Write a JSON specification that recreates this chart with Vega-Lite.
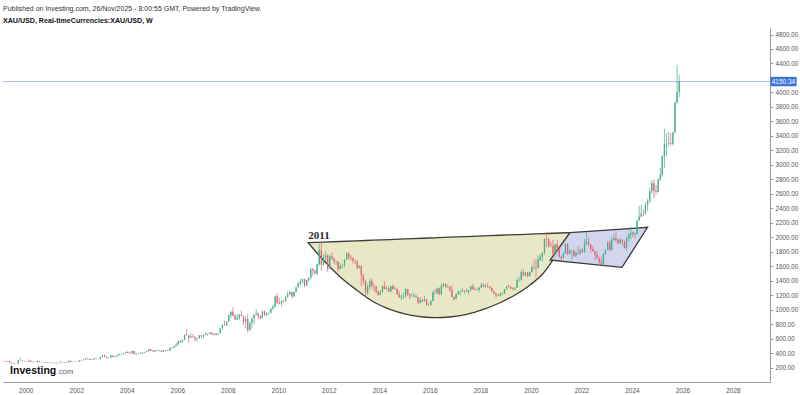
{
  "$schema": "https://vega.github.io/schema/vega-lite/v6.json",
  "autosize": {"type": "none"},
  "width": 767,
  "height": 354,
  "padding": {"left": 3, "top": 28, "right": 30, "bottom": 13},
  "background": "white",
  "config": {"view": {"stroke": null}, "font": "Liberation Sans", "axis": {"labelOverlap": false, "labelBound": false, "labelFlush": false}, "scale": {"continuousPadding": 0}},
  "title": {
    "text": "Published on Investing.com, 26/Nov/2025 - 8:00:55 GMT, Powered by TradingView.",
    "subtitle": "XAU/USD, Real-timeCurrencies:XAU/USD, W",
    "anchor": "start",
    "frame": "group",
    "font": "Liberation Sans",
    "fontSize": 7,
    "fontWeight": "normal",
    "color": "#333333",
    "subtitleFont": "Liberation Sans",
    "subtitleFontSize": 7.1,
    "subtitleFontWeight": "bold",
    "subtitleColor": "#111111",
    "subtitlePadding": 4.5,
    "offset": 4
  },
  "resolve": {"axis": {"x": "independent", "y": "independent"}},
  "datasets": {
    "gold": [
      {"t":"1999-02-15","o":287,"h":293,"l":282,"c":287},
      {"t":"1999-03-15","o":287,"h":291,"l":278,"c":279},
      {"t":"1999-04-15","o":279,"h":291,"l":278,"c":286},
      {"t":"1999-05-15","o":286,"h":290,"l":268,"c":268},
      {"t":"1999-06-15","o":268,"h":268,"l":256,"c":261},
      {"t":"1999-07-15","o":261,"h":262,"l":252,"c":255},
      {"t":"1999-08-15","o":255,"h":260,"l":252,"c":254},
      {"t":"1999-09-15","o":254,"h":302,"l":253,"c":299},
      {"t":"1999-10-15","o":299,"h":338,"l":293,"c":299},
      {"t":"1999-11-15","o":299,"h":301,"l":289,"c":291},
      {"t":"1999-12-15","o":291,"h":292,"l":279,"c":288},
      {"t":"2000-01-15","o":288,"h":292,"l":280,"c":283},
      {"t":"2000-02-15","o":283,"h":313,"l":282,"c":293},
      {"t":"2000-03-15","o":293,"h":298,"l":277,"c":278},
      {"t":"2000-04-15","o":278,"h":288,"l":272,"c":275},
      {"t":"2000-05-15","o":275,"h":278,"l":270,"c":272},
      {"t":"2000-06-15","o":272,"h":293,"l":271,"c":288},
      {"t":"2000-07-15","o":288,"h":290,"l":275,"c":276},
      {"t":"2000-08-15","o":276,"h":280,"l":271,"c":277},
      {"t":"2000-09-15","o":277,"h":277,"l":268,"c":273},
      {"t":"2000-10-15","o":273,"h":276,"l":263,"c":264},
      {"t":"2000-11-15","o":264,"h":270,"l":263,"c":269},
      {"t":"2000-12-15","o":269,"h":275,"l":268,"c":273},
      {"t":"2001-01-15","o":273,"h":273,"l":262,"c":265},
      {"t":"2001-02-15","o":265,"h":268,"l":255,"c":267},
      {"t":"2001-03-15","o":267,"h":268,"l":255,"c":258},
      {"t":"2001-04-15","o":258,"h":265,"l":254,"c":263},
      {"t":"2001-05-15","o":263,"h":293,"l":263,"c":267},
      {"t":"2001-06-15","o":267,"h":277,"l":266,"c":270},
      {"t":"2001-07-15","o":270,"h":272,"l":262,"c":266},
      {"t":"2001-08-15","o":266,"h":280,"l":265,"c":273},
      {"t":"2001-09-15","o":273,"h":294,"l":270,"c":293},
      {"t":"2001-10-15","o":293,"h":293,"l":276,"c":279},
      {"t":"2001-11-15","o":279,"h":282,"l":272,"c":275},
      {"t":"2001-12-15","o":275,"h":280,"l":272,"c":279},
      {"t":"2002-01-15","o":279,"h":286,"l":277,"c":282},
      {"t":"2002-02-15","o":282,"h":300,"l":281,"c":297},
      {"t":"2002-03-15","o":297,"h":305,"l":289,"c":302},
      {"t":"2002-04-15","o":302,"h":309,"l":298,"c":308},
      {"t":"2002-05-15","o":308,"h":328,"l":307,"c":326},
      {"t":"2002-06-15","o":326,"h":330,"l":313,"c":318},
      {"t":"2002-07-15","o":318,"h":323,"l":300,"c":304},
      {"t":"2002-08-15","o":304,"h":315,"l":302,"c":312},
      {"t":"2002-09-15","o":312,"h":326,"l":310,"c":324},
      {"t":"2002-10-15","o":324,"h":326,"l":313,"c":316},
      {"t":"2002-11-15","o":316,"h":322,"l":314,"c":317},
      {"t":"2002-12-15","o":317,"h":349,"l":316,"c":347},
      {"t":"2003-01-15","o":347,"h":372,"l":342,"c":367},
      {"t":"2003-02-15","o":367,"h":382,"l":345,"c":347},
      {"t":"2003-03-15","o":347,"h":352,"l":323,"c":334},
      {"t":"2003-04-15","o":334,"h":340,"l":320,"c":336},
      {"t":"2003-05-15","o":336,"h":372,"l":335,"c":361},
      {"t":"2003-06-15","o":361,"h":369,"l":341,"c":346},
      {"t":"2003-07-15","o":346,"h":361,"l":341,"c":354},
      {"t":"2003-08-15","o":354,"h":376,"l":353,"c":375},
      {"t":"2003-09-15","o":375,"h":392,"l":370,"c":388},
      {"t":"2003-10-15","o":388,"h":392,"l":369,"c":386},
      {"t":"2003-11-15","o":386,"h":399,"l":380,"c":398},
      {"t":"2003-12-15","o":398,"h":417,"l":396,"c":416},
      {"t":"2004-01-15","o":416,"h":428,"l":398,"c":402},
      {"t":"2004-02-15","o":402,"h":417,"l":390,"c":396},
      {"t":"2004-03-15","o":396,"h":431,"l":394,"c":427},
      {"t":"2004-04-15","o":427,"h":429,"l":385,"c":388},
      {"t":"2004-05-15","o":388,"h":396,"l":371,"c":393},
      {"t":"2004-06-15","o":393,"h":399,"l":384,"c":395},
      {"t":"2004-07-15","o":395,"h":412,"l":387,"c":391},
      {"t":"2004-08-15","o":391,"h":411,"l":388,"c":407},
      {"t":"2004-09-15","o":407,"h":416,"l":397,"c":415},
      {"t":"2004-10-15","o":415,"h":430,"l":412,"c":428},
      {"t":"2004-11-15","o":428,"h":456,"l":422,"c":452},
      {"t":"2004-12-15","o":452,"h":457,"l":428,"c":438},
      {"t":"2005-01-15","o":438,"h":440,"l":417,"c":422},
      {"t":"2005-02-15","o":422,"h":437,"l":412,"c":435},
      {"t":"2005-03-15","o":435,"h":445,"l":425,"c":428},
      {"t":"2005-04-15","o":428,"h":439,"l":421,"c":435},
      {"t":"2005-05-15","o":435,"h":436,"l":414,"c":417},
      {"t":"2005-06-15","o":417,"h":443,"l":414,"c":437},
      {"t":"2005-07-15","o":437,"h":438,"l":418,"c":429},
      {"t":"2005-08-15","o":429,"h":448,"l":427,"c":433},
      {"t":"2005-09-15","o":433,"h":474,"l":433,"c":473},
      {"t":"2005-10-15","o":473,"h":479,"l":460,"c":470},
      {"t":"2005-11-15","o":470,"h":497,"l":469,"c":495},
      {"t":"2005-12-15","o":495,"h":541,"l":494,"c":513},
      {"t":"2006-01-15","o":513,"h":572,"l":513,"c":568},
      {"t":"2006-02-15","o":568,"h":574,"l":538,"c":556},
      {"t":"2006-03-15","o":556,"h":586,"l":537,"c":582},
      {"t":"2006-04-15","o":582,"h":655,"l":580,"c":654},
      {"t":"2006-05-15","o":654,"h":730,"l":642,"c":643},
      {"t":"2006-06-15","o":643,"h":645,"l":543,"c":613},
      {"t":"2006-07-15","o":613,"h":675,"l":608,"c":633},
      {"t":"2006-08-15","o":633,"h":663,"l":614,"c":623},
      {"t":"2006-09-15","o":623,"h":632,"l":560,"c":599},
      {"t":"2006-10-15","o":599,"h":610,"l":561,"c":604},
      {"t":"2006-11-15","o":604,"h":649,"l":602,"c":646},
      {"t":"2006-12-15","o":646,"h":648,"l":612,"c":632},
      {"t":"2007-01-15","o":632,"h":657,"l":603,"c":650},
      {"t":"2007-02-15","o":650,"h":690,"l":648,"c":665},
      {"t":"2007-03-15","o":665,"h":669,"l":636,"c":662},
      {"t":"2007-04-15","o":662,"h":693,"l":661,"c":679},
      {"t":"2007-05-15","o":679,"h":689,"l":650,"c":659},
      {"t":"2007-06-15","o":659,"h":675,"l":640,"c":650},
      {"t":"2007-07-15","o":650,"h":683,"l":646,"c":665},
      {"t":"2007-08-15","o":665,"h":675,"l":642,"c":672},
      {"t":"2007-09-15","o":672,"h":745,"l":668,"c":743},
      {"t":"2007-10-15","o":743,"h":790,"l":722,"c":789},
      {"t":"2007-11-15","o":789,"h":846,"l":775,"c":783},
      {"t":"2007-12-15","o":783,"h":836,"l":778,"c":834},
      {"t":"2008-01-15","o":834,"h":930,"l":832,"c":923},
      {"t":"2008-02-15","o":923,"h":976,"l":885,"c":972},
      {"t":"2008-03-15","o":972,"h":1033,"l":905,"c":916},
      {"t":"2008-04-15","o":916,"h":941,"l":860,"c":864},
      {"t":"2008-05-15","o":864,"h":934,"l":849,"c":886},
      {"t":"2008-06-15","o":886,"h":944,"l":858,"c":930},
      {"t":"2008-07-15","o":930,"h":988,"l":906,"c":912},
      {"t":"2008-08-15","o":912,"h":916,"l":786,"c":833},
      {"t":"2008-09-15","o":833,"h":910,"l":740,"c":871},
      {"t":"2008-10-15","o":871,"h":935,"l":681,"c":718},
      {"t":"2008-11-15","o":718,"h":830,"l":705,"c":815},
      {"t":"2008-12-15","o":815,"h":890,"l":746,"c":882},
      {"t":"2009-01-15","o":882,"h":932,"l":800,"c":928},
      {"t":"2009-02-15","o":928,"h":1006,"l":925,"c":942},
      {"t":"2009-03-15","o":942,"h":963,"l":865,"c":916},
      {"t":"2009-04-15","o":916,"h":917,"l":866,"c":883},
      {"t":"2009-05-15","o":883,"h":980,"l":880,"c":978},
      {"t":"2009-06-15","o":978,"h":990,"l":912,"c":926},
      {"t":"2009-07-15","o":926,"h":961,"l":904,"c":954},
      {"t":"2009-08-15","o":954,"h":962,"l":934,"c":955},
      {"t":"2009-09-15","o":955,"h":1025,"l":949,"c":1007},
      {"t":"2009-10-15","o":1007,"h":1070,"l":1003,"c":1039},
      {"t":"2009-11-15","o":1039,"h":1195,"l":1033,"c":1182},
      {"t":"2009-12-15","o":1182,"h":1227,"l":1075,"c":1096},
      {"t":"2010-01-15","o":1096,"h":1162,"l":1072,"c":1081},
      {"t":"2010-02-15","o":1081,"h":1127,"l":1044,"c":1118},
      {"t":"2010-03-15","o":1118,"h":1135,"l":1088,"c":1113},
      {"t":"2010-04-15","o":1113,"h":1180,"l":1112,"c":1179},
      {"t":"2010-05-15","o":1179,"h":1249,"l":1162,"c":1213},
      {"t":"2010-06-15","o":1213,"h":1265,"l":1201,"c":1244},
      {"t":"2010-07-15","o":1244,"h":1245,"l":1157,"c":1181},
      {"t":"2010-08-15","o":1181,"h":1251,"l":1178,"c":1248},
      {"t":"2010-09-15","o":1248,"h":1310,"l":1242,"c":1308},
      {"t":"2010-10-15","o":1308,"h":1388,"l":1307,"c":1357},
      {"t":"2010-11-15","o":1357,"h":1424,"l":1329,"c":1385},
      {"t":"2010-12-15","o":1385,"h":1431,"l":1360,"c":1421},
      {"t":"2011-01-15","o":1421,"h":1424,"l":1308,"c":1332},
      {"t":"2011-02-15","o":1332,"h":1412,"l":1330,"c":1410},
      {"t":"2011-03-15","o":1410,"h":1447,"l":1382,"c":1439},
      {"t":"2011-04-15","o":1439,"h":1575,"l":1418,"c":1556},
      {"t":"2011-05-15","o":1556,"h":1577,"l":1462,"c":1536},
      {"t":"2011-06-15","o":1536,"h":1553,"l":1495,"c":1500},
      {"t":"2011-07-15","o":1500,"h":1632,"l":1478,"c":1628},
      {"t":"2011-08-15","o":1628,"h":1913,"l":1600,"c":1826},
      {"t":"2011-09-15","o":1826,"h":1921,"l":1535,"c":1620},
      {"t":"2011-10-15","o":1620,"h":1764,"l":1604,"c":1722},
      {"t":"2011-11-15","o":1722,"h":1804,"l":1670,"c":1746},
      {"t":"2011-12-15","o":1746,"h":1764,"l":1523,"c":1565},
      {"t":"2012-01-15","o":1565,"h":1764,"l":1563,"c":1737},
      {"t":"2012-02-15","o":1737,"h":1792,"l":1689,"c":1711},
      {"t":"2012-03-15","o":1711,"h":1720,"l":1627,"c":1669},
      {"t":"2012-04-15","o":1669,"h":1678,"l":1612,"c":1664},
      {"t":"2012-05-15","o":1664,"h":1668,"l":1527,"c":1561},
      {"t":"2012-06-15","o":1561,"h":1640,"l":1555,"c":1604},
      {"t":"2012-07-15","o":1604,"h":1627,"l":1564,"c":1614},
      {"t":"2012-08-15","o":1614,"h":1692,"l":1585,"c":1692},
      {"t":"2012-09-15","o":1692,"h":1790,"l":1689,"c":1772},
      {"t":"2012-10-15","o":1772,"h":1796,"l":1694,"c":1719},
      {"t":"2012-11-15","o":1719,"h":1755,"l":1672,"c":1711},
      {"t":"2012-12-15","o":1711,"h":1723,"l":1636,"c":1675},
      {"t":"2013-01-15","o":1675,"h":1694,"l":1626,"c":1663},
      {"t":"2013-02-15","o":1663,"h":1682,"l":1555,"c":1579},
      {"t":"2013-03-15","o":1579,"h":1617,"l":1563,"c":1595},
      {"t":"2013-04-15","o":1595,"h":1612,"l":1321,"c":1476},
      {"t":"2013-05-15","o":1476,"h":1488,"l":1338,"c":1393},
      {"t":"2013-06-15","o":1393,"h":1417,"l":1180,"c":1234},
      {"t":"2013-07-15","o":1234,"h":1348,"l":1207,"c":1313},
      {"t":"2013-08-15","o":1313,"h":1434,"l":1270,"c":1395},
      {"t":"2013-09-15","o":1395,"h":1424,"l":1292,"c":1328},
      {"t":"2013-10-15","o":1328,"h":1361,"l":1251,"c":1323},
      {"t":"2013-11-15","o":1323,"h":1326,"l":1227,"c":1250},
      {"t":"2013-12-15","o":1250,"h":1267,"l":1187,"c":1202},
      {"t":"2014-01-15","o":1202,"h":1270,"l":1202,"c":1240},
      {"t":"2014-02-15","o":1240,"h":1332,"l":1238,"c":1326},
      {"t":"2014-03-15","o":1326,"h":1392,"l":1277,"c":1284},
      {"t":"2014-04-15","o":1284,"h":1331,"l":1268,"c":1296},
      {"t":"2014-05-15","o":1296,"h":1315,"l":1240,"c":1250},
      {"t":"2014-06-15","o":1250,"h":1326,"l":1240,"c":1327},
      {"t":"2014-07-15","o":1327,"h":1345,"l":1282,"c":1282},
      {"t":"2014-08-15","o":1282,"h":1322,"l":1280,"c":1287},
      {"t":"2014-09-15","o":1287,"h":1290,"l":1205,"c":1208},
      {"t":"2014-10-15","o":1208,"h":1255,"l":1161,"c":1171},
      {"t":"2014-11-15","o":1171,"h":1208,"l":1131,"c":1182},
      {"t":"2014-12-15","o":1182,"h":1238,"l":1142,"c":1184},
      {"t":"2015-01-15","o":1184,"h":1307,"l":1167,"c":1283},
      {"t":"2015-02-15","o":1283,"h":1285,"l":1191,"c":1212},
      {"t":"2015-03-15","o":1212,"h":1224,"l":1142,"c":1183},
      {"t":"2015-04-15","o":1183,"h":1224,"l":1175,"c":1183},
      {"t":"2015-05-15","o":1183,"h":1232,"l":1170,"c":1190},
      {"t":"2015-06-15","o":1190,"h":1205,"l":1162,"c":1172},
      {"t":"2015-07-15","o":1172,"h":1175,"l":1077,"c":1095},
      {"t":"2015-08-15","o":1095,"h":1170,"l":1080,"c":1133},
      {"t":"2015-09-15","o":1133,"h":1157,"l":1098,"c":1115},
      {"t":"2015-10-15","o":1115,"h":1191,"l":1113,"c":1142},
      {"t":"2015-11-15","o":1142,"h":1142,"l":1052,"c":1065},
      {"t":"2015-12-15","o":1065,"h":1088,"l":1046,"c":1061},
      {"t":"2016-01-15","o":1061,"h":1123,"l":1062,"c":1118},
      {"t":"2016-02-15","o":1118,"h":1263,"l":1111,"c":1238},
      {"t":"2016-03-15","o":1238,"h":1283,"l":1208,"c":1233},
      {"t":"2016-04-15","o":1233,"h":1304,"l":1207,"c":1292},
      {"t":"2016-05-15","o":1292,"h":1304,"l":1199,"c":1215},
      {"t":"2016-06-15","o":1215,"h":1362,"l":1200,"c":1321},
      {"t":"2016-07-15","o":1321,"h":1375,"l":1310,"c":1351},
      {"t":"2016-08-15","o":1351,"h":1367,"l":1301,"c":1309},
      {"t":"2016-09-15","o":1309,"h":1352,"l":1302,"c":1316},
      {"t":"2016-10-15","o":1316,"h":1318,"l":1241,"c":1273},
      {"t":"2016-11-15","o":1273,"h":1337,"l":1171,"c":1173},
      {"t":"2016-12-15","o":1173,"h":1180,"l":1122,"c":1146},
      {"t":"2017-01-15","o":1146,"h":1220,"l":1146,"c":1211},
      {"t":"2017-02-15","o":1211,"h":1264,"l":1207,"c":1248},
      {"t":"2017-03-15","o":1248,"h":1261,"l":1195,"c":1249},
      {"t":"2017-04-15","o":1249,"h":1295,"l":1245,"c":1268},
      {"t":"2017-05-15","o":1268,"h":1270,"l":1214,"c":1268},
      {"t":"2017-06-15","o":1268,"h":1296,"l":1238,"c":1242},
      {"t":"2017-07-15","o":1242,"h":1270,"l":1204,"c":1269},
      {"t":"2017-08-15","o":1269,"h":1331,"l":1267,"c":1321},
      {"t":"2017-09-15","o":1321,"h":1357,"l":1275,"c":1280},
      {"t":"2017-10-15","o":1280,"h":1306,"l":1260,"c":1271},
      {"t":"2017-11-15","o":1271,"h":1299,"l":1264,"c":1275},
      {"t":"2017-12-15","o":1275,"h":1310,"l":1237,"c":1303},
      {"t":"2018-01-15","o":1303,"h":1366,"l":1302,"c":1345},
      {"t":"2018-02-15","o":1345,"h":1361,"l":1307,"c":1318},
      {"t":"2018-03-15","o":1318,"h":1356,"l":1303,"c":1325},
      {"t":"2018-04-15","o":1325,"h":1365,"l":1301,"c":1315},
      {"t":"2018-05-15","o":1315,"h":1326,"l":1282,"c":1299},
      {"t":"2018-06-15","o":1299,"h":1309,"l":1245,"c":1253},
      {"t":"2018-07-15","o":1253,"h":1266,"l":1211,"c":1224},
      {"t":"2018-08-15","o":1224,"h":1236,"l":1160,"c":1201},
      {"t":"2018-09-15","o":1201,"h":1214,"l":1180,"c":1192},
      {"t":"2018-10-15","o":1192,"h":1243,"l":1183,"c":1215},
      {"t":"2018-11-15","o":1215,"h":1237,"l":1196,"c":1222},
      {"t":"2018-12-15","o":1222,"h":1284,"l":1221,"c":1282},
      {"t":"2019-01-15","o":1282,"h":1326,"l":1276,"c":1321},
      {"t":"2019-02-15","o":1321,"h":1346,"l":1309,"c":1313},
      {"t":"2019-03-15","o":1313,"h":1324,"l":1281,"c":1292},
      {"t":"2019-04-15","o":1292,"h":1310,"l":1266,"c":1284},
      {"t":"2019-05-15","o":1284,"h":1306,"l":1266,"c":1305},
      {"t":"2019-06-15","o":1305,"h":1439,"l":1301,"c":1409},
      {"t":"2019-07-15","o":1409,"h":1452,"l":1382,"c":1414},
      {"t":"2019-08-15","o":1414,"h":1555,"l":1400,"c":1520},
      {"t":"2019-09-15","o":1520,"h":1557,"l":1459,"c":1472},
      {"t":"2019-10-15","o":1472,"h":1517,"l":1459,"c":1513},
      {"t":"2019-11-15","o":1513,"h":1516,"l":1445,"c":1464},
      {"t":"2019-12-15","o":1464,"h":1524,"l":1454,"c":1517},
      {"t":"2020-01-15","o":1517,"h":1611,"l":1517,"c":1589},
      {"t":"2020-02-15","o":1589,"h":1689,"l":1547,"c":1586},
      {"t":"2020-03-15","o":1586,"h":1704,"l":1451,"c":1577},
      {"t":"2020-04-15","o":1577,"h":1747,"l":1567,"c":1687},
      {"t":"2020-05-15","o":1687,"h":1765,"l":1670,"c":1730},
      {"t":"2020-06-15","o":1730,"h":1789,"l":1671,"c":1781},
      {"t":"2020-07-15","o":1781,"h":1984,"l":1757,"c":1975},
      {"t":"2020-08-15","o":1975,"h":2075,"l":1863,"c":1967},
      {"t":"2020-09-15","o":1967,"h":1992,"l":1849,"c":1886},
      {"t":"2020-10-15","o":1886,"h":1933,"l":1860,"c":1879},
      {"t":"2020-11-15","o":1879,"h":1966,"l":1764,"c":1776},
      {"t":"2020-12-15","o":1776,"h":1906,"l":1775,"c":1898},
      {"t":"2021-01-15","o":1898,"h":1959,"l":1802,"c":1847},
      {"t":"2021-02-15","o":1847,"h":1872,"l":1717,"c":1734},
      {"t":"2021-03-15","o":1734,"h":1740,"l":1677,"c":1708},
      {"t":"2021-04-15","o":1708,"h":1798,"l":1706,"c":1769},
      {"t":"2021-05-15","o":1769,"h":1913,"l":1766,"c":1906},
      {"t":"2021-06-15","o":1906,"h":1916,"l":1750,"c":1770},
      {"t":"2021-07-15","o":1770,"h":1834,"l":1761,"c":1814},
      {"t":"2021-08-15","o":1814,"h":1832,"l":1688,"c":1814},
      {"t":"2021-09-15","o":1814,"h":1834,"l":1722,"c":1743},
      {"t":"2021-10-15","o":1743,"h":1814,"l":1721,"c":1783},
      {"t":"2021-11-15","o":1783,"h":1877,"l":1758,"c":1774},
      {"t":"2021-12-15","o":1774,"h":1832,"l":1753,"c":1829},
      {"t":"2022-01-15","o":1829,"h":1853,"l":1780,"c":1796},
      {"t":"2022-02-15","o":1796,"h":1974,"l":1781,"c":1909},
      {"t":"2022-03-15","o":1909,"h":2070,"l":1890,"c":1937},
      {"t":"2022-04-15","o":1937,"h":1998,"l":1872,"c":1897},
      {"t":"2022-05-15","o":1897,"h":1910,"l":1787,"c":1837},
      {"t":"2022-06-15","o":1837,"h":1880,"l":1805,"c":1807},
      {"t":"2022-07-15","o":1807,"h":1814,"l":1681,"c":1766},
      {"t":"2022-08-15","o":1766,"h":1808,"l":1709,"c":1711},
      {"t":"2022-09-15","o":1711,"h":1735,"l":1615,"c":1660},
      {"t":"2022-10-15","o":1660,"h":1729,"l":1617,"c":1633},
      {"t":"2022-11-15","o":1633,"h":1786,"l":1616,"c":1768},
      {"t":"2022-12-15","o":1768,"h":1834,"l":1765,"c":1824},
      {"t":"2023-01-15","o":1824,"h":1949,"l":1823,"c":1928},
      {"t":"2023-02-15","o":1928,"h":1959,"l":1804,"c":1827},
      {"t":"2023-03-15","o":1827,"h":2009,"l":1810,"c":1969},
      {"t":"2023-04-15","o":1969,"h":2049,"l":1950,"c":1990},
      {"t":"2023-05-15","o":1990,"h":2079,"l":1932,"c":1963},
      {"t":"2023-06-15","o":1963,"h":1984,"l":1893,"c":1919},
      {"t":"2023-07-15","o":1919,"h":1987,"l":1903,"c":1965},
      {"t":"2023-08-15","o":1965,"h":1973,"l":1885,"c":1940},
      {"t":"2023-09-15","o":1940,"h":1953,"l":1846,"c":1849},
      {"t":"2023-10-15","o":1849,"h":2009,"l":1810,"c":1983},
      {"t":"2023-11-15","o":1983,"h":2052,"l":1931,"c":2036},
      {"t":"2023-12-15","o":2036,"h":2146,"l":1973,"c":2063},
      {"t":"2024-01-15","o":2063,"h":2078,"l":2002,"c":2039},
      {"t":"2024-02-15","o":2039,"h":2065,"l":1984,"c":2044},
      {"t":"2024-03-15","o":2044,"h":2236,"l":2039,"c":2230},
      {"t":"2024-04-15","o":2230,"h":2432,"l":2228,"c":2286},
      {"t":"2024-05-15","o":2286,"h":2450,"l":2277,"c":2327},
      {"t":"2024-06-15","o":2327,"h":2388,"l":2287,"c":2326},
      {"t":"2024-07-15","o":2326,"h":2484,"l":2318,"c":2448},
      {"t":"2024-08-15","o":2448,"h":2531,"l":2364,"c":2503},
      {"t":"2024-09-15","o":2503,"h":2685,"l":2472,"c":2635},
      {"t":"2024-10-15","o":2635,"h":2790,"l":2603,"c":2744},
      {"t":"2024-11-15","o":2744,"h":2801,"l":2537,"c":2643},
      {"t":"2024-12-15","o":2643,"h":2726,"l":2583,"c":2625},
      {"t":"2025-01-15","o":2625,"h":2817,"l":2615,"c":2798},
      {"t":"2025-02-15","o":2798,"h":2956,"l":2772,"c":2858},
      {"t":"2025-03-15","o":2858,"h":3128,"l":2833,"c":3124},
      {"t":"2025-04-15","o":3124,"h":3500,"l":2957,"c":3288},
      {"t":"2025-05-15","o":3288,"h":3435,"l":3121,"c":3289},
      {"t":"2025-06-15","o":3289,"h":3452,"l":3248,"c":3303},
      {"t":"2025-07-15","o":3303,"h":3439,"l":3268,"c":3290},
      {"t":"2025-08-15","o":3290,"h":3454,"l":3268,"c":3448},
      {"t":"2025-09-15","o":3448,"h":3872,"l":3436,"c":3858},
      {"t":"2025-10-15","o":3858,"h":4381,"l":3845,"c":4003},
      {"t":"2025-11-15","o":4003,"h":4245,"l":3931,"c":4150}
    ],
    "cup": [
      {"d":"2011-03-10","top":1924,"bot":1924},
      {"d":"2011-10-12","top":1932,"bot":1685},
      {"d":"2012-06-10","top":1941,"bot":1455},
      {"d":"2013-02-06","top":1950,"bot":1271},
      {"d":"2013-10-04","top":1959,"bot":1109},
      {"d":"2014-06-03","top":1968,"bot":1004},
      {"d":"2015-01-30","top":1977,"bot":935},
      {"d":"2015-09-27","top":1986,"bot":898},
      {"d":"2016-03-14","top":1992,"bot":888},
      {"d":"2016-10-16","top":2000,"bot":898},
      {"d":"2017-06-18","top":2009,"bot":935},
      {"d":"2018-02-14","top":2018,"bot":1004},
      {"d":"2018-10-12","top":2027,"bot":1095},
      {"d":"2019-06-10","top":2035,"bot":1216},
      {"d":"2019-12-20","top":2042,"bot":1340},
      {"d":"2020-06-28","top":2049,"bot":1502},
      {"d":"2021-02-24","top":2058,"bot":1837},
      {"d":"2021-07-19","top":2064,"bot":2064}
    ],
    "handle": [
      {"d":"2020-10-05","top":1685,"bot":1685},
      {"d":"2021-07-19","top":2064,"bot":1657},
      {"d":"2023-08-11","top":2112,"bot":1584},
      {"d":"2024-08-14","top":2137,"bot":2137}
    ]
  },
  "layer": [
    {
      "data": {"name": "cup"},
      "mark": {"type": "area", "interpolate": "monotone", "fill": "#e6e5c0", "fillOpacity": 0.9, "stroke": "#3d3d35", "strokeWidth": 1.3},
      "encoding": {
        "x": {"field": "d", "type": "temporal", "scale": {"domain": ["1999-02-06", "2029-06-20"], "nice": false, "padding": 0},
          "axis": {"orient": "bottom", "format": "%Y", "tickCount": {"interval": "year", "step": 2}, "labelFontSize": 6.5, "labelColor": "#555555", "domainColor": "#9a9a9a", "ticks": false, "labelPadding": 5, "grid": false, "title": null, "labelFont": "Liberation Sans", "labelOverlap": false}},
        "y": {"field": "top", "type": "quantitative", "scale": {"domain": [0, 4890], "nice": false, "zero": true, "padding": 0},
          "axis": {"orient": "right", "values": [200,400,600,800,1000,1200,1400,1600,1800,2000,2200,2400,2600,2800,3000,3200,3400,3600,3800,4000,4400,4600,4800], "format": ".2f", "labelFontSize": 6.3, "labelColor": "#555555", "domainColor": "#9a9a9a", "tickColor": "#9a9a9a", "tickSize": 3, "labelPadding": 2, "grid": false, "title": null, "labelFont": "Liberation Sans", "labelOverlap": false}},
        "y2": {"field": "bot"}
      }
    },
    {
      "data": {"name": "handle"},
      "mark": {"type": "area", "interpolate": "linear", "fill": "#cdd0ea", "fillOpacity": 0.9, "stroke": "#3a3a3a", "strokeWidth": 1.3},
      "encoding": {
        "x": {"field": "d", "type": "temporal", "axis": null},
        "y": {"field": "top", "type": "quantitative", "axis": null},
        "y2": {"field": "bot"}
      }
    },
    {
      "data": {"values": [{"p": 4150.34}]},
      "mark": {"type": "rule", "color": "#a9bbd6", "strokeWidth": 1},
      "encoding": {"y": {"field": "p", "type": "quantitative", "axis": null}}
    },
    {
      "data": {"name": "gold"},
      "mark": {"type": "rule", "strokeWidth": 0.7},
      "encoding": {
        "x": {"field": "t", "type": "temporal", "axis": null},
        "y": {"field": "h", "type": "quantitative", "axis": null},
        "y2": {"field": "l"},
        "color": {"condition": {"test": "datum.c >= datum.o", "value": "#43ad8c"}, "value": "#dd6475"}
      }
    },
    {
      "data": {"name": "gold"},
      "mark": {"type": "bar", "width": 1.3},
      "encoding": {
        "x": {"field": "t", "type": "temporal", "axis": null},
        "y": {"field": "o", "type": "quantitative", "axis": null},
        "y2": {"field": "c"},
        "color": {"condition": {"test": "datum.c >= datum.o", "value": "#43ad8c"}, "value": "#dd6475"}
      }
    },
    {
      "data": {"values": [{"d": "2011-03-10", "p": 2017, "txt": "2011"}]},
      "mark": {"type": "text", "align": "left", "baseline": "middle", "font": "Liberation Serif", "fontWeight": "bold", "fontSize": 11, "color": "#2a2a2a"},
      "encoding": {"x": {"field": "d", "type": "temporal", "axis": null}, "y": {"field": "p", "type": "quantitative", "axis": null}, "text": {"field": "txt"}}
    },
    {
      "data": {"values": [{"d": "1999-05-20", "p": 110, "txt": "Investing"}]},
      "mark": {"type": "text", "align": "left", "baseline": "alphabetic", "font": "Liberation Sans", "fontWeight": "bold", "fontSize": 10.5, "color": "#111111", "letterSpacing": -0.3},
      "encoding": {"x": {"field": "d", "type": "temporal", "axis": null}, "y": {"field": "p", "type": "quantitative", "axis": null}, "text": {"field": "txt"}}
    },
    {
      "data": {"values": [{"d": "2001-03-28", "p": 110, "txt": ".com"}]},
      "mark": {"type": "text", "align": "left", "baseline": "alphabetic", "font": "Liberation Sans", "fontSize": 7.5, "color": "#666666"},
      "encoding": {"x": {"field": "d", "type": "temporal", "axis": null}, "y": {"field": "p", "type": "quantitative", "axis": null}, "text": {"field": "txt"}}
    },
    {
      "data": {"values": [{"d": "2029-06-28", "d2": "2030-07-10", "p": 4085, "p2": 4215}]},
      "mark": {"type": "rect", "color": "#3d74d9", "clip": false},
      "encoding": {"x": {"field": "d", "type": "temporal", "axis": null}, "x2": {"field": "d2"}, "y": {"field": "p", "type": "quantitative", "axis": null}, "y2": {"field": "p2"}}
    },
    {
      "data": {"values": [{"d": "2030-01-01", "p": 4150.34, "txt": "4150.34"}]},
      "mark": {"type": "text", "align": "center", "baseline": "middle", "font": "Liberation Sans", "fontSize": 6.5, "color": "white", "clip": false},
      "encoding": {"x": {"field": "d", "type": "temporal", "axis": null}, "y": {"field": "p", "type": "quantitative", "axis": null}, "text": {"field": "txt"}}
    }
  ]
}
